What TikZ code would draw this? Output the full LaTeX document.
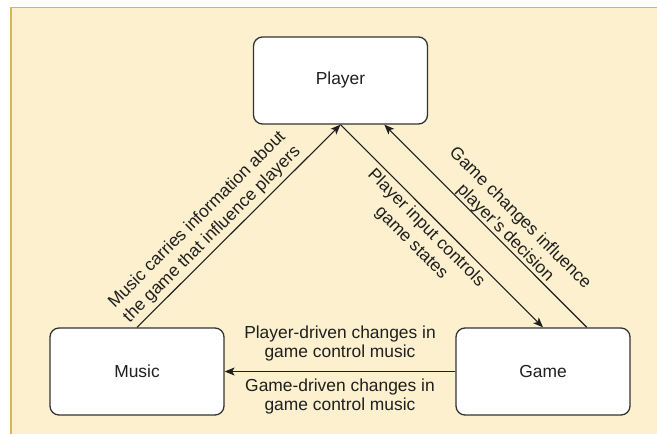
\documentclass[tikz,border=0pt]{standalone}
\usepackage{fontspec}
\setmainfont{Liberation Sans}
\usetikzlibrary{arrows.meta,calc}
\definecolor{panelfill}{HTML}{FCF0CE}
\definecolor{panelline}{HTML}{D6B656}
\definecolor{ink}{HTML}{1F1F1F}
\definecolor{boxline}{HTML}{333333}
\begin{document}
\begin{tikzpicture}[x=1pt,y=-1pt,
  box/.style={draw=boxline, line width=1.3pt, fill=white, rounded corners=9pt,
    minimum width=174pt, minimum height=87pt, inner sep=0pt, text=ink,
    font=\fontsize{17.4}{19}\selectfont},
  link/.style={draw=ink, line width=1.1pt,
    -{Stealth[length=10pt,width=8pt,inset=2.5pt]}},
  lbl/.style={text=ink, font=\fontsize{17.4}{19}\selectfont, align=center,
    inner sep=0pt},
  slbl/.style={lbl, sloped, font=\fontsize{17.4}{21}\selectfont},
]
\useasboundingbox (0,0) rectangle (657,434);
\clip (0,0) rectangle (657,434);
\fill[white] (0,0) rectangle (657,434);
% background panel
\draw[panelline, fill=panelfill, line width=1.5pt] (11,7.5) rectangle (680,460);

% the three actors
\node[box] (player) at (340.5,80.5) {Player};
\node[box] (music) at (137,371.5) {Music};
\node[box] (game) at (543,371.5) {Game};

% three-quarter points on the right-hand side of the boxes
\coordinate (gameq) at ($(game.north)!0.5!(game.north east)$);
\coordinate (playerq) at ($(player.south)!0.5!(player.south east)$);

% connectors with their labels
\draw[link] (music.north) -- node[slbl, pos=0.413, above=4pt]
  {Music carries information about\\the game that influence players} (player.south);
\draw[link] (player.south) -- node[slbl, pos=0.467, below=4pt]
  {Player input controls\\game states} (game.north);
\draw[link] (gameq) -- node[slbl, pos=0.434, above=0pt]
  {Game changes influence\\player's decision} (playerq);
\draw[link] (game.west) -- node[lbl, above=10pt]
  {Player-driven changes in\\game control music}
  node[lbl, below=7pt]
  {Game-driven changes in\\game control music} (music.east);
\end{tikzpicture}
\end{document}
